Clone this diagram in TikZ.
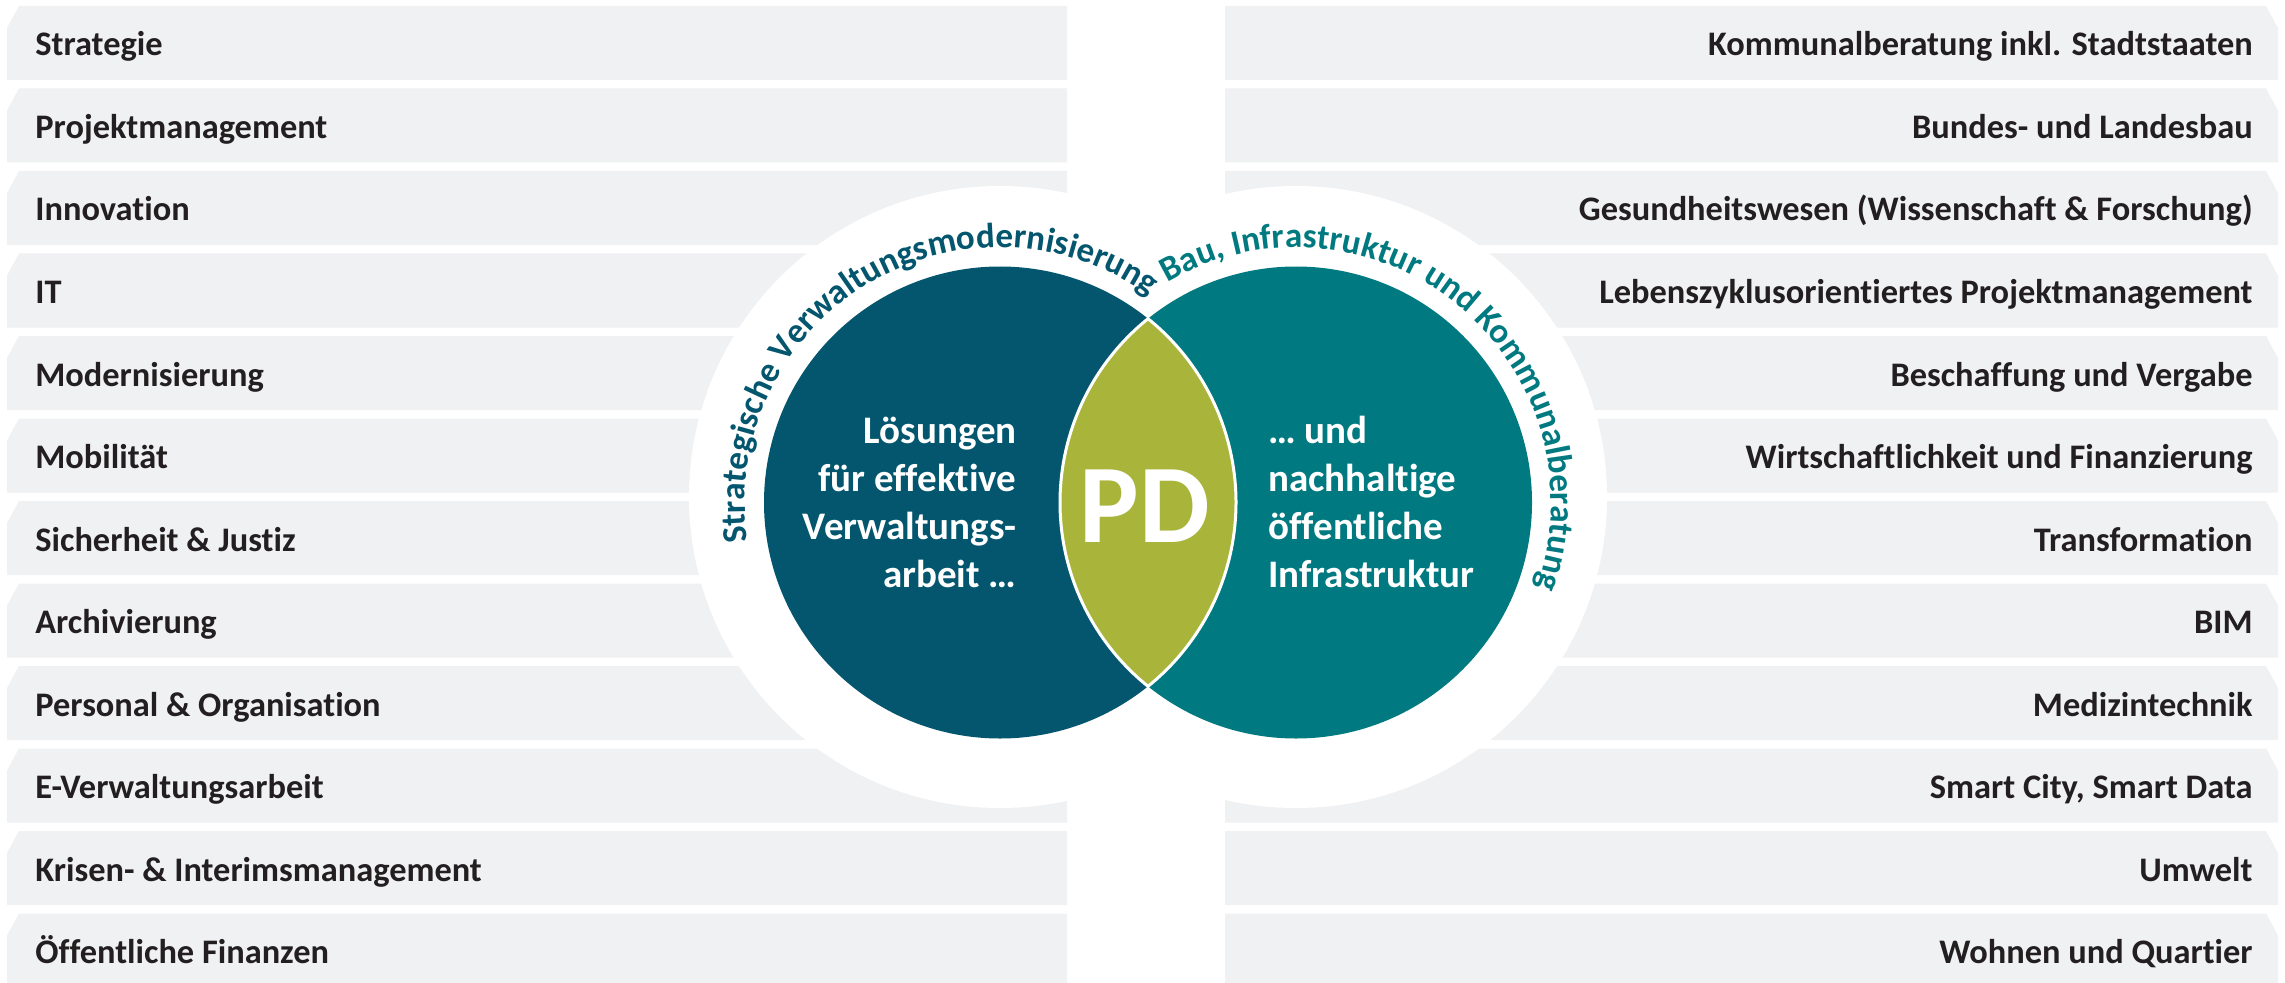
\documentclass[tikz,border=0pt]{standalone}
\usepackage{fontspec}
\setmainfont{Carlito}[Ligatures={NoCommon}]
\usetikzlibrary{decorations.text}
\definecolor{barfill}{HTML}{F0F1F3}
\definecolor{cleft}{HTML}{03566E}
\definecolor{cright}{HTML}{007A80}
\definecolor{clens}{HTML}{A9B43B}
\definecolor{ctext}{HTML}{231F20}
\begin{document}
\begin{tikzpicture}[x=0.5pt,y=0.5pt,
  barlabel/.style={font=\fontsize{17.2}{20}\selectfont\bfseries, text=ctext, inner sep=0pt},
  midtext/.style={font=\fontsize{19.5}{24}\selectfont\bfseries, text=white, inner sep=0pt},
  bigtext/.style={font=\fontsize{56}{56}\selectfont\bfseries, text=white, inner sep=0pt},
  bar/.style={fill=barfill},
  ring/.style={fill=white}]
\useasboundingbox (0,0) rectangle (2285,982);
\fill[white] (0,0) rectangle (2285,982);
% left bars
\foreach \lab [count=\i from 0] in {Strategie, Projektmanagement, Innovation, IT, Modernisierung, Mobilität, Sicherheit \& Justiz, Archivierung, Personal \& Organisation, E-Verwaltungsarbeit, Krisen- \& Interimsmanagement, Öffentliche Finanzen} {
  \pgfmathsetmacro\yt{976-82.5*\i}
  \pgfmathsetmacro\yb{902-82.5*\i}
  \fill[bar] (7,\yb) -- (7,{\yt-22}) -- (19,\yt) -- (1067,\yt) -- (1067,\yb) -- cycle;
  \node[barlabel, anchor=base west] (l\i) at (35,{926-82.5*\i}) {\lab};
}
% right bars
\foreach \lab [count=\i from 0] in {Kommunalberatung inkl. Stadtstaaten, Bundes- und Landesbau, Gesundheitswesen (Wissenschaft \& Forschung), Lebenszyklusorientiertes Projektmanagement, Beschaffung und Vergabe, Wirtschaftlichkeit und Finanzierung, Transformation, BIM, Medizintechnik, {Smart City, Smart Data}, Umwelt, Wohnen und Quartier} {
  \pgfmathsetmacro\yt{976-82.5*\i}
  \pgfmathsetmacro\yb{902-82.5*\i}
  \fill[bar] (1225,\yb) -- (1225,\yt) -- (2266,\yt) -- (2278,{\yt-22}) -- (2278,\yb) -- cycle;
  \node[barlabel, anchor=base east] (r\i) at (2253,{926-82.5*\i}) {\lab};
}
% white rings
\coordinate (cL) at (1000,479.5);
\coordinate (cR) at (1296,479.5);
\fill[ring] (1000,485) circle[radius=311];
\fill[ring] (1296,485) circle[radius=311];
% circles
\fill[cleft] (cL) circle[radius=236];
\fill[cright] (cR) circle[radius=236];
% lens
\coordinate (lt) at (1148,663.3);
\coordinate (lb) at (1148,295.7);
\filldraw[fill=clens, draw=white, line width=1.5pt] (lt) arc[start angle=51.16, end angle=-51.16, radius=236]
  arc[start angle=231.16, end angle=128.84, radius=236] -- cycle;
% arc texts
\path[decorate, decoration={text along path, text align=center, text color=cleft,
  text={|\fontsize{17.5}{20}\selectfont\bfseries|Strategische Verwaltungsmodernisierung}}]
  ([shift={(211.5:255)}]cL) arc[start angle=211.5, end angle=31.5, radius=255];
\path[decorate, decoration={text along path, text align=center, text color=cright,
  text={|\fontsize{17.5}{20}\selectfont\bfseries|Bau{,} Infrastruktur und Kommunalberatung}}]
  ([shift={(140.5:255)}]cR) arc[start angle=140.5, end angle=-39.5, radius=255];
% centre texts
\node[midtext, anchor=base east] (tL) at (1017,395) {\begin{tabular}[b]{@{}r@{}}Lösungen\\für effektive\\Verwaltungs-\\arbeit …\end{tabular}};
\node[midtext, anchor=base west] (tR) at (1268,395) {\begin{tabular}[b]{@{}l@{}}… und\\nachhaltige\\öffentliche\\Infrastruktur\end{tabular}};
\node[bigtext] (pd) at (1145,476) {PD};
\end{tikzpicture}
\end{document}
